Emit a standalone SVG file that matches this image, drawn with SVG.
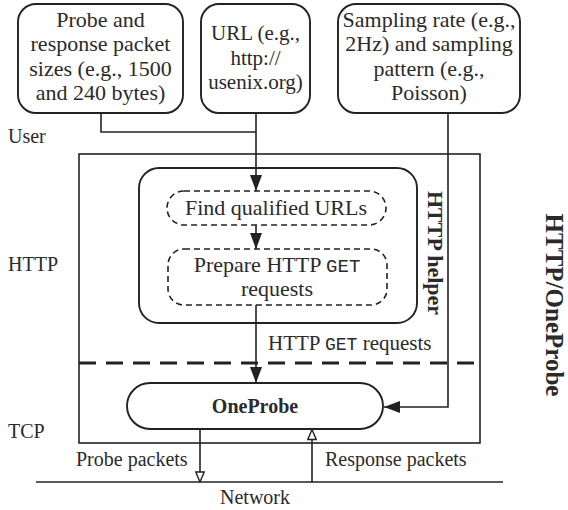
<svg xmlns="http://www.w3.org/2000/svg" width="568" height="510" viewBox="0 0 568 510" font-family="'Liberation Serif', 'Times New Roman', serif">
  <defs>
    <style>
      text { font-family: "Liberation Serif", "Times New Roman", serif; font-size: 20px; fill: #2a2a2a; }
      .big { font-size: 22px; }
      .mono { font-family: "Liberation Mono", "Courier New", monospace; font-size: 18px; }
      .mid { text-anchor: middle; }
      .bold { font-weight: bold; }
      .box { fill: #fff; stroke: #222; stroke-width: 1.9; }
      .dash { fill: #fff; stroke: #222; stroke-width: 1.6; stroke-dasharray: 6 4; }
      .wire { fill: none; stroke: #222; stroke-width: 1.6; }
      .frame { fill: none; stroke: #222; stroke-width: 1.6; }
    </style>
    <marker id="solid" viewBox="0 0 16 12" refX="16" refY="6" markerWidth="16" markerHeight="12" markerUnits="userSpaceOnUse" orient="auto">
      <path d="M0,0 L16,6 L0,12 Z" fill="#222"/>
    </marker>
    <marker id="open" viewBox="0 0 12 10" refX="11" refY="5" markerWidth="12" markerHeight="10" markerUnits="userSpaceOnUse" orient="auto">
      <path d="M1,0.8 L11,5 L1,9.2 Z" fill="#fff" stroke="#222" stroke-width="1.4"/>
    </marker>
  </defs>

  <!-- layer labels -->
  <text x="8" y="143">User</text>
  <text x="8" y="271">HTTP</text>
  <text x="8" y="438">TCP</text>
  <text x="255" y="504" class="mid">Network</text>

  <!-- HTTP/OneProbe frame and layer divider -->
  <g id="frame">
    <rect x="79" y="154" width="401" height="289" class="frame"/>
    <line x1="79" y1="363" x2="480" y2="363" stroke="#222" stroke-width="3" stroke-dasharray="17 10"/>
    <text class="bold mid" transform="translate(546,305) rotate(90)" style="font-size:25px">HTTP/OneProbe</text>
  </g>

  <!-- network line -->
  <line x1="36" y1="482" x2="503" y2="482" stroke="#222" stroke-width="1.6"/>

  <!-- user inputs -->
  <g id="sizes">
    <rect x="18" y="4" width="165" height="109" rx="18" class="box"/>
    <text x="100.5" y="27" class="mid big">Probe and</text>
    <text x="100.5" y="51" class="mid big">response packet</text>
    <text x="100.5" y="76" class="mid big">sizes (e.g., 1500</text>
    <text x="100.5" y="100" class="mid big">and 240 bytes)</text>
  </g>
  <g id="url">
    <rect x="201" y="4" width="109" height="109" rx="18" class="box"/>
    <text x="255.5" y="40" class="mid" style="font-size:21px">URL (e.g.,</text>
    <text x="255.5" y="65" class="mid" style="font-size:21px">http://</text>
    <text x="255.5" y="89" class="mid" style="font-size:21px">usenix.org)</text>
  </g>
  <g id="sampling">
    <rect x="338" y="4" width="182" height="109" rx="18" class="box"/>
    <text x="429" y="27" class="mid big">Sampling rate (e.g.,</text>
    <text x="429" y="51" class="mid big">2Hz) and sampling</text>
    <text x="429" y="76" class="mid big">pattern (e.g.,</text>
    <text x="429" y="100" class="mid big">Poisson)</text>
  </g>

  <!-- HTTP helper -->
  <g id="http-helper">
    <rect x="139" y="168" width="278" height="155" rx="20" class="box"/>
    <text class="bold mid big" transform="translate(428,253) rotate(90)">HTTP helper</text>
  </g>
  <g id="find-urls">
    <rect x="167" y="191" width="219" height="34" rx="17" class="dash"/>
    <text x="276" y="215" class="mid big">Find qualified URLs</text>
  </g>
  <g id="prepare-get">
    <rect x="168" y="249" width="219" height="56" rx="16" class="dash"/>
    <text x="277" y="272" class="mid big">Prepare HTTP <tspan class="mono" style="font-size:19px">GET</tspan></text>
    <text x="277" y="296" class="mid big">requests</text>
  </g>

  <!-- OneProbe -->
  <g id="oneprobe">
    <rect x="127" y="383" width="256" height="46" rx="23" class="box"/>
    <text x="255" y="413" class="bold mid">OneProbe</text>
  </g>

  <!-- connector labels -->
  <text x="268" y="350" style="font-size:21px">HTTP <tspan class="mono">GET</tspan> requests</text>
  <text x="76" y="466">Probe packets</text>
  <text x="325" y="466">Response packets</text>

  <!-- connectors -->
  <g id="connectors">
    <path d="M101,113 V132 H256" class="wire"/>
    <path d="M256,113 V191" class="wire" marker-end="url(#solid)"/>
    <path d="M256,225 V249" class="wire" marker-end="url(#solid)"/>
    <path d="M256,305 V383" class="wire" marker-end="url(#solid)"/>
    <path d="M448,113 V407 H384" class="wire" marker-end="url(#solid)"/>
    <path d="M200,429 V482" class="wire" marker-end="url(#open)"/>
    <path d="M312,482 V429.5" class="wire" marker-end="url(#open)"/>
  </g>
</svg>
